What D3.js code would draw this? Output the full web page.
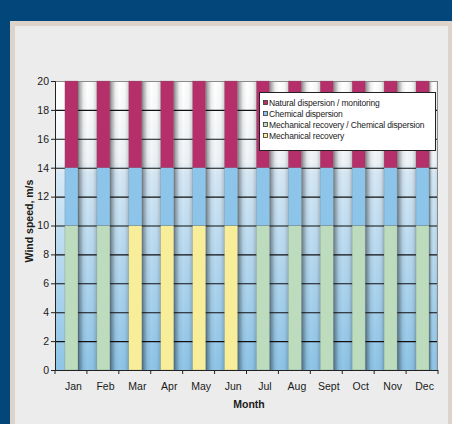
<!DOCTYPE html>
<html lang="en">
<head>
  <meta http-equiv="Content-Type" content="text/html; charset=utf-8">
  <title>Wind speed by month</title>
  <style type="text/css">
    html, body { margin: 0; padding: 0; background: #03477a; }
    svg        { display: block; }
    text       { font-family: "Liberation Sans", Arial, sans-serif; fill: #1a1a1a; }
    .tick text { font-size: 10.5px; }
    .title     { font-size: 10.5px; font-weight: bold; }
    .legend text { font-size: 8.5px; letter-spacing: -0.15px; }
  </style>
</head>
<body>
<script src="https://cdn.jsdelivr.net/npm/d3@7/dist/d3.min.js"></script>
<script>
  //----------------------------------------------------------------------------
  var months = ["Jan", "Feb", "Mar", "Apr", "May", "Jun",
                "Jul", "Aug", "Sept", "Oct", "Nov", "Dec"];

  // wind speed range (m/s) covered by each response option, per month
  var mechanical    = [0, 0, 10, 10, 10, 10, 0, 0, 0, 0, 0, 0];
  var mechChemical  = [10, 10, 0, 0, 0, 0, 10, 10, 10, 10, 10, 10];
  var chemical      = [4, 4, 4, 4, 4, 4, 4, 4, 4, 4, 4, 4];
  var natural       = [6, 6, 6, 6, 6, 6, 6, 6, 6, 6, 6, 6];

  var yTicks = [0, 2, 4, 6, 8, 10, 12, 14, 16, 18, 20];

  var seriesNames = ["Mechanical recovery", "Mechanical recovery / Chemical dispersion",
                     "Chemical dispersion", "Natural dispersion  / monitoring"];
  var legendOrder = ["Natural dispersion  / monitoring", "Chemical dispersion",
                     "Mechanical recovery / Chemical dispersion", "Mechanical recovery"];
  var colors = {
    "Mechanical recovery": "#f8ee9a",
    "Mechanical recovery / Chemical dispersion": "#bcdcbd",
    "Chemical dispersion": "#8cc5e9",
    "Natural dispersion  / monitoring": "#b5306a"
  };

  var table = months.map(function(m, i) {
    var row = { month: m };
    row[seriesNames[0]] = mechanical[i];
    row[seriesNames[1]] = mechChemical[i];
    row[seriesNames[2]] = chemical[i];
    row[seriesNames[3]] = natural[i];
    return row;
  });

  var width = 452;
  var height = 424;
  var plot = { left: 55, right: 438, top: 81, bottom: 370 };

  var svg = d3.select("body")
    .append("svg")
      .attr("width", width)
      .attr("height", height);

  // frame / panel
  svg.append("rect").attr("width", width).attr("height", height).attr("fill", "#03477a");
  svg.append("rect").attr("x", 10).attr("y", 21).attr("width", width - 10).attr("height", height - 21)
    .attr("fill", "#dcd3cb");
  svg.append("rect").attr("x", 15).attr("y", 26).attr("width", width - 19).attr("height", height - 26)
    .attr("fill", "#ebeceb");

  var defs = svg.append("defs");
  var vg = defs.append("linearGradient").attr("id", "bgv")
    .attr("x1", 0).attr("y1", 0).attr("x2", 0).attr("y2", 1);
  vg.append("stop").attr("offset", "0%").attr("stop-color", "#ffffff");
  vg.append("stop").attr("offset", "28%").attr("stop-color", "#f0f4f8");
  vg.append("stop").attr("offset", "32%").attr("stop-color", "#d6e8f5");
  vg.append("stop").attr("offset", "100%").attr("stop-color", "#8ec5e8");

  var hg = defs.append("linearGradient").attr("id", "shade")
    .attr("x1", 0).attr("y1", 0).attr("x2", 1).attr("y2", 0);
  [[0, 0.5], [0.1, 0.32], [0.3, 0.06], [0.5, 0], [0.8, 0.03], [1, 0.18]].forEach(function(s) {
    hg.append("stop").attr("offset", s[0]).attr("stop-color", "#000").attr("stop-opacity", s[1]);
  });

  var x = d3.scaleBand()
    .domain(months)
    .range([plot.left, plot.right])
    .padding(0);

  var y = d3.scaleLinear()
    .domain([0, 20])
    .range([plot.bottom, plot.top]);

  var barOffset = x.bandwidth() * 0.31;
  var barWidth = x.bandwidth() * 0.41;

  // plot background
  svg.append("rect")
    .attr("x", plot.left).attr("y", plot.top)
    .attr("width", plot.right - plot.left).attr("height", plot.bottom - plot.top)
    .attr("fill", "url(#bgv)");

  // cylinder-like shading in the gaps between bars
  var gaps = months.map(function(m, i) {
    var start = x(m) + barOffset + barWidth;
    var end = i < months.length - 1 ? x(months[i + 1]) + barOffset : plot.right;
    return { x0: start, x1: end };
  });

  svg.append("g").selectAll("rect")
    .data(gaps)
    .enter().append("rect")
      .attr("x", function(d) { return d.x0; })
      .attr("y", plot.top)
      .attr("width", function(d) { return d.x1 - d.x0; })
      .attr("height", plot.bottom - plot.top)
      .attr("fill", "url(#shade)");

  // gridlines
  svg.append("g").selectAll("line")
    .data(yTicks.slice(1, -1))
    .enter().append("line")
      .attr("x1", plot.left).attr("x2", plot.right)
      .attr("y1", function(d) { return y(d) + 0.5; })
      .attr("y2", function(d) { return y(d) + 0.5; })
      .attr("stroke", "#111")
      .attr("stroke-width", 1.1);

  // plot border
  svg.append("rect")
    .attr("x", plot.left + 0.5).attr("y", plot.top + 0.5)
    .attr("width", plot.right - plot.left - 1).attr("height", plot.bottom - plot.top)
    .attr("fill", "none")
    .attr("stroke", "#8a8a8a");

  // bars
  var stack = d3.stack().keys(seriesNames);
  var layers = stack(table);

  svg.append("g").selectAll("g")
    .data(layers)
    .enter().append("g")
      .attr("fill", function(d) { return colors[d.key]; })
    .selectAll("rect")
    .data(function(d) { return d.filter(function(p) { return p[1] > p[0]; }); })
    .enter().append("rect")
      .attr("x", function(d) { return x(d.data.month) + barOffset; })
      .attr("y", function(d) { return y(d[1]); })
      .attr("width", barWidth)
      .attr("height", function(d) { return y(d[0]) - y(d[1]); })
      .attr("stroke", "rgba(90,90,90,0.35)")
      .attr("stroke-width", 0.6);

  // y axis
  var yAxis = svg.append("g")
    .attr("transform", "translate(" + plot.left + ",0)")
    .call(d3.axisLeft(y).tickValues(yTicks).tickSize(4).tickPadding(2));
  yAxis.select(".domain").attr("stroke", "#222");
  yAxis.selectAll(".tick line").attr("stroke", "#222");

  // x axis, ticks between categories
  var xAxis = svg.append("g");
  xAxis.append("line")
    .attr("x1", plot.left).attr("x2", plot.right)
    .attr("y1", plot.bottom + 0.5).attr("y2", plot.bottom + 0.5)
    .attr("stroke", "#222").attr("stroke-width", 1.2);
  var bounds = months.map(function(m) { return x(m); }).concat([plot.right]);
  xAxis.selectAll(".xt")
    .data(bounds)
    .enter().append("line")
      .attr("class", "xt")
      .attr("x1", function(d) { return d; })
      .attr("x2", function(d) { return d; })
      .attr("y1", plot.bottom)
      .attr("y2", plot.bottom + 4)
      .attr("stroke", "#222");
  xAxis.selectAll("text")
    .data(months)
    .enter().append("text")
      .attr("x", function(d) { return x(d) + x.bandwidth() * 0.58; })
      .attr("y", 390)
      .attr("text-anchor", "middle")
      .style("font-size", "10.5px")
      .text(function(d) { return d; });

  // axis titles
  svg.append("text")
    .attr("class", "title")
    .attr("x", 249).attr("y", 408)
    .attr("text-anchor", "middle")
    .text("Month");

  svg.append("text")
    .attr("class", "title")
    .attr("transform", "translate(33,221) rotate(-90)")
    .attr("text-anchor", "middle")
    .text("Wind speed, m/s");

  // legend
  var legend = svg.append("g").attr("class", "legend");
  legend.append("rect")
    .attr("x", 259.5).attr("y", 92.5)
    .attr("width", 176).attr("height", 58)
    .attr("fill", "#fff")
    .attr("stroke", "#222");
  var rowY = [106, 117, 128, 139];
  var items = legend.selectAll("g.item")
    .data(legendOrder)
    .enter().append("g")
      .attr("class", "item")
      .attr("transform", function(d, i) { return "translate(263," + rowY[i] + ")"; });
  items.append("rect")
    .attr("x", 0.5).attr("y", -5.5)
    .attr("width", 4).attr("height", 4)
    .attr("fill", function(d) { return colors[d]; })
    .attr("stroke", "#333")
    .attr("stroke-width", 0.8);
  items.append("text")
    .attr("x", 6)
    .attr("y", 0)
    .text(function(d) { return d; });

  //----------------------------------------------------------------------------
</script>
</body>
</html>
